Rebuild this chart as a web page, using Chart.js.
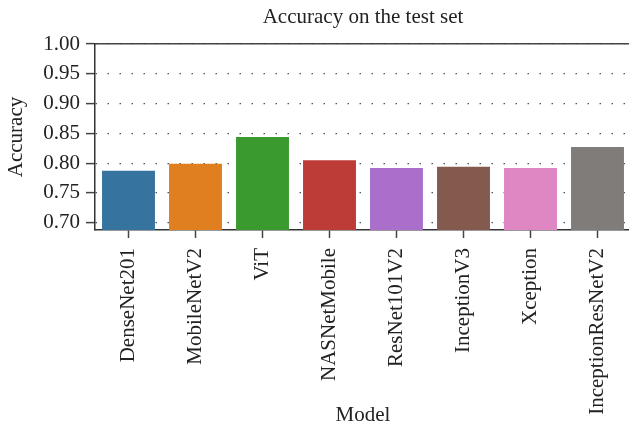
<!DOCTYPE html>
<html>
<head>
<meta charset="utf-8">
<script src="https://cdn.jsdelivr.net/npm/chart.js@4"></script>
<style>
	html, body { margin: 0; padding: 0; background: #fff; overflow: hidden; }
	#wrap { width: 640px; height: 430px; }
</style>
</head>
<body>
<div id="wrap"><canvas id="myChartAcc" width="640" height="430"></canvas></div>
<script>
var models = ['DenseNet201', 'MobileNetV2', 'ViT', 'NASNetMobile', 'ResNet101V2', 'InceptionV3', 'Xception', 'InceptionResNetV2'];
var accuracy = [0.787, 0.799, 0.844, 0.805, 0.792, 0.794, 0.792, 0.827];
var barColors = ['#36739f', '#e07f1f', '#3a9a2f', '#be3c37', '#aa6fcb', '#845a4f', '#df87c3', '#807c79'];
var yTicks = [0.70, 0.75, 0.80, 0.85, 0.90, 0.95, 1.00];

var serif = { family: '"Liberation Serif", "DejaVu Serif", serif', size: 21 };
Chart.defaults.color = '#222';

var ctx = document.getElementById('myChartAcc');
var myChart = new Chart(ctx, {
	type: 'bar',
	data: {
		labels: models,
		datasets: [
			{
				label: 'Accuracy',
				data: accuracy,
				backgroundColor: barColors,
				borderWidth: 0,
				barPercentage: 0.79,
				categoryPercentage: 1.0,
			},
		],
	},
	options: {
		responsive: false,
		animation: false,
		layout: { padding: { left: 0, top: 0, right: 9, bottom: 0 } },
		plugins: {
			legend: { display: false },
			tooltip: { enabled: false },
		},
		scales: {
			x: {
				position: 'bottom',
				grid: { offset: false, drawOnChartArea: false, drawTicks: true, tickLength: 8, tickColor: '#444', tickWidth: 1.5 },
				border: { display: true, color: '#333', width: 1.5 },
				ticks: { font: serif, maxRotation: 90, minRotation: 90, padding: 10, autoSkip: false },
				title: { display: true, text: 'Model', font: serif, padding: { top: 0, bottom: 2 } },
				afterFit: function (scale) { scale.height = 200; },
			},
			x2: {
				position: 'top',
				type: 'category',
				labels: models,
				grid: { display: false, drawTicks: false },
				border: { display: true, color: '#444', width: 1.5 },
				ticks: { display: false },
				title: { display: true, text: 'Accuracy on the test set', font: serif, padding: { top: 5, bottom: 0 } },
				afterFit: function (scale) { scale.height = 44; },
			},
			y: {
				min: 0.6877,
				max: 1.0,
				grid: { color: '#555', lineWidth: 1.2, drawTicks: true, tickLength: 9, tickColor: '#444', tickWidth: 1.5 },
				border: { display: true, color: '#333', width: 1.5, dash: [1.5, 10.5] },
				ticks: {
					font: serif,
					padding: 6,
					callback: function (v) { return Number(v).toFixed(2); },
				},
				afterBuildTicks: function (scale) {
					scale.ticks = yTicks.map(function (v) { return { value: v }; });
				},
				title: { display: true, text: 'Accuracy', font: serif, padding: { top: 4, bottom: 0 } },
				afterFit: function (scale) { scale.width = 95; },
			},
		},
	},
});
</script>
</body>
</html>
